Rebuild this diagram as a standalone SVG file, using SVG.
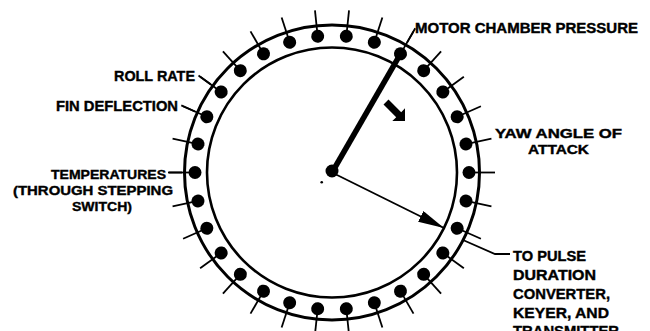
<svg xmlns="http://www.w3.org/2000/svg" xmlns:xlink="http://www.w3.org/1999/xlink" width="650" height="331" viewBox="0 0 650 331">
<style>
.lbl{font-family:"Liberation Sans",Arial,sans-serif;font-weight:bold;font-size:15px;fill:#000;stroke:#000;stroke-width:0.4}
.sm{font-size:13.5px}
.ring{fill:none;stroke:#000}
.tick{stroke:#000;stroke-width:1.8;fill:none}
.lead{stroke:#000;stroke-width:1.8;fill:none}
</style>
<defs>
<g id="spoke">
<line class="tick" x1="0" y1="-137" x2="0" y2="-163"/>
<circle cx="0" cy="-137" r="6.5" fill="#000"/>
</g>
<marker id="ah" viewBox="0 0 26 12" refX="26" refY="6" markerWidth="26" markerHeight="12" markerUnits="userSpaceOnUse" orient="auto">
<path d="M0,0 L26,6 L0,12 Z" fill="#000"/>
</marker>
</defs>
<rect width="650" height="331" fill="#fff"/>
<g id="commutator" transform="translate(332,172.5)">
<circle class="ring" cx="0" cy="0" r="147.5" stroke-width="3"/>
<circle class="ring" cx="0" cy="0" r="125" stroke-width="2.6"/>
<g id="segments">
<use xlink:href="#spoke" transform="rotate(6)"/>
<use xlink:href="#spoke" transform="rotate(18)"/>
<use xlink:href="#spoke" transform="rotate(30)"/>
<use xlink:href="#spoke" transform="rotate(42)"/>
<use xlink:href="#spoke" transform="rotate(54)"/>
<use xlink:href="#spoke" transform="rotate(66)"/>
<use xlink:href="#spoke" transform="rotate(78)"/>
<use xlink:href="#spoke" transform="rotate(90)"/>
<use xlink:href="#spoke" transform="rotate(102)"/>
<use xlink:href="#spoke" transform="rotate(114)"/>
<use xlink:href="#spoke" transform="rotate(126)"/>
<use xlink:href="#spoke" transform="rotate(138)"/>
<use xlink:href="#spoke" transform="rotate(150)"/>
<use xlink:href="#spoke" transform="rotate(162)"/>
<use xlink:href="#spoke" transform="rotate(174)"/>
<use xlink:href="#spoke" transform="rotate(186)"/>
<use xlink:href="#spoke" transform="rotate(198)"/>
<use xlink:href="#spoke" transform="rotate(210)"/>
<use xlink:href="#spoke" transform="rotate(222)"/>
<use xlink:href="#spoke" transform="rotate(234)"/>
<use xlink:href="#spoke" transform="rotate(246)"/>
<use xlink:href="#spoke" transform="rotate(258)"/>
<use xlink:href="#spoke" transform="rotate(270)"/>
<use xlink:href="#spoke" transform="rotate(282)"/>
<use xlink:href="#spoke" transform="rotate(294)"/>
<use xlink:href="#spoke" transform="rotate(306)"/>
<use xlink:href="#spoke" transform="rotate(318)"/>
<use xlink:href="#spoke" transform="rotate(330)"/>
<use xlink:href="#spoke" transform="rotate(342)"/>
<use xlink:href="#spoke" transform="rotate(354)"/>
</g>
<line class="lead" x1="0" y1="-150" x2="0" y2="-166.5" transform="rotate(30)"/>
<line class="lead" x1="0" y1="-150" x2="0" y2="-165" transform="rotate(306)"/>
<line class="lead" x1="0" y1="-150" x2="0" y2="-165" transform="rotate(294)"/>
<line class="lead" x1="0" y1="-150" x2="0" y2="-164" transform="rotate(270)"/>
</g>
<g id="connectors">
<polyline class="lead" points="463,240 495,254 510,254"/>
<line x1="332" y1="172.5" x2="400.5" y2="53.9" stroke="#000" stroke-width="5.5"/>
<line x1="332" y1="172.5" x2="444" y2="228" stroke="#000" stroke-width="1.8" marker-end="url(#ah)"/>
<polygon points="388.5,99.5 401.2,112.2 405,108.3 405,121 392.3,121 396.2,117.2 383.5,104.5" fill="#000"/>
</g>
<g id="hub">
<circle cx="332" cy="171" r="6.5" fill="#000"/>
<circle cx="321.7" cy="182.3" r="1.3" fill="#000"/>
</g>
<g id="labels">
<text class="lbl" x="415" y="33" textLength="223" lengthAdjust="spacingAndGlyphs">MOTOR CHAMBER PRESSURE</text>
<text class="lbl" x="114" y="81" textLength="81" lengthAdjust="spacingAndGlyphs">ROLL RATE</text>
<text class="lbl" x="56" y="111" textLength="122" lengthAdjust="spacingAndGlyphs">FIN DEFLECTION</text>
<text class="lbl sm" x="51" y="178.5" textLength="115" lengthAdjust="spacingAndGlyphs">TEMPERATURES</text>
<text class="lbl sm" x="13" y="194.5" textLength="160" lengthAdjust="spacingAndGlyphs">(THROUGH STEPPING</text>
<text class="lbl sm" x="72" y="210.5" textLength="60" lengthAdjust="spacingAndGlyphs">SWITCH)</text>
<text class="lbl sm" x="495" y="137.5" textLength="127" lengthAdjust="spacingAndGlyphs">YAW ANGLE OF</text>
<text class="lbl sm" x="528" y="153.5" textLength="61" lengthAdjust="spacingAndGlyphs">ATTACK</text>
<text class="lbl" x="513" y="261" textLength="73" lengthAdjust="spacingAndGlyphs">TO PULSE</text>
<text class="lbl" x="513" y="280" textLength="83" lengthAdjust="spacingAndGlyphs">DURATION</text>
<text class="lbl" x="513" y="299" textLength="97" lengthAdjust="spacingAndGlyphs">CONVERTER,</text>
<text class="lbl" x="513" y="318" textLength="96" lengthAdjust="spacingAndGlyphs">KEYER, AND</text>
<text class="lbl" x="513" y="336" textLength="106" lengthAdjust="spacingAndGlyphs">TRANSMITTER</text>
</g>
</svg>
